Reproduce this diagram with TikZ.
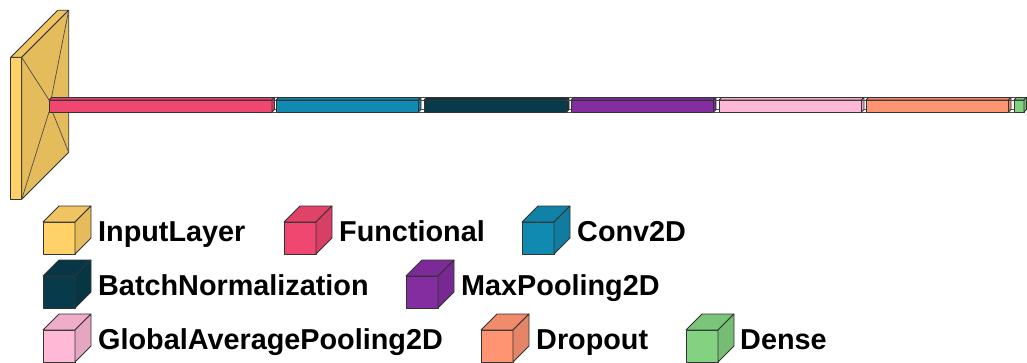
\documentclass[tikz,border=0pt]{standalone}
\usepackage{fontspec}
\setmainfont{Liberation Sans}
\usepackage{tikz}

\definecolor{inputcol}{HTML}{FFD166}
\definecolor{funccol}{HTML}{EF476F}
\definecolor{convcol}{HTML}{118AB2}
\definecolor{bncol}{HTML}{073B4C}
\definecolor{poolcol}{HTML}{842DA1}
\definecolor{gapcol}{HTML}{FFB8D6}
\definecolor{dropcol}{HTML}{FF9472}
\definecolor{densecol}{HTML}{82D282}

% corners of a box: name, x1, y1, x2, y2, depth
\newcommand{\defbox}[6]{%
  \coordinate (#1-ftl) at (#2,#3);
  \coordinate (#1-ftr) at (#4,#3);
  \coordinate (#1-fbl) at (#2,#5);
  \coordinate (#1-fbr) at (#4,#5);
  \coordinate (#1-btl) at (#2+#6,#3-#6);
  \coordinate (#1-btr) at (#4+#6,#3-#6);
  \coordinate (#1-bbl) at (#2+#6,#5-#6);
  \coordinate (#1-bbr) at (#4+#6,#5-#6);
}
% front, top and side faces
\newcommand{\drawbox}[2]{%
  \draw[boxline, fill=#2] (#1-ftl) rectangle (#1-fbr);
  \draw[boxline, fill=#2!94!black] (#1-ftl) -- (#1-btl) -- (#1-btr) -- (#1-ftr) -- cycle;
  \draw[boxline, fill=#2!90!black] (#1-ftr) -- (#1-btr) -- (#1-bbr) -- (#1-fbr) -- cycle;
}
% lines from one box to the next
\newcommand{\funnel}[2]{%
  \draw[funnelline] (#1-btr) -- (#2-btl);
  \draw[funnelline] (#1-bbr) -- (#2-bbl);
  \draw[funnelline] (#1-fbr) -- (#2-fbl);
  \draw[funnelline] (#1-ftr) -- (#2-ftl);
}

\begin{document}
\begin{tikzpicture}[x=1pt, y=-1pt,
  boxline/.style={draw=black!80, line width=0.8pt, line join=round},
  funnelline/.style={draw=black!70, line width=0.7pt},
  legendtext/.style={anchor=base west, inner sep=0pt,
    font=\fontsize{28.8}{30}\selectfont\bfseries}]
  \useasboundingbox (0,0) rectangle (1027,362);

  % Layers
  \defbox{in}{10.7}{57.3}{21.7}{199.3}{47}
  \defbox{fun}{49}{100}{272}{112}{2.5}
  \defbox{conv}{276}{100}{418.5}{112}{2.5}
  \defbox{bn}{424}{100}{566.5}{112}{2.5}
  \defbox{pool}{571}{100}{713.5}{112}{2.5}
  \defbox{gap}{719}{100}{861.5}{112}{2.5}
  \defbox{drop}{866}{100}{1008.5}{112}{2.5}
  \defbox{dense}{1014}{100}{1024}{112}{2.5}

  \drawbox{in}{inputcol}
  \funnel{in}{fun}
  \drawbox{fun}{funccol}
  \funnel{fun}{conv}
  \drawbox{conv}{convcol}
  \funnel{conv}{bn}
  \drawbox{bn}{bncol}
  \funnel{bn}{pool}
  \drawbox{pool}{poolcol}
  \funnel{pool}{gap}
  \drawbox{gap}{gapcol}
  \funnel{gap}{drop}
  \drawbox{drop}{dropcol}
  \funnel{drop}{dense}
  \drawbox{dense}{densecol}

  % Legend, first row
  \defbox{lg-in}{43}{222}{75}{254}{16}
  \drawbox{lg-in}{inputcol}
  \node[legendtext] (txt-in) at (98,241) {InputLayer};
  \defbox{lg-fun}{284}{222}{316}{254}{16}
  \drawbox{lg-fun}{funccol}
  \node[legendtext] (txt-fun) at (339,241) {Functional};
  \defbox{lg-conv}{522}{222}{554}{254}{16}
  \drawbox{lg-conv}{convcol}
  \node[legendtext] (txt-conv) at (577,241) {Conv2D};

  % Legend, second row
  \defbox{lg-bn}{43}{276}{75}{308}{16}
  \drawbox{lg-bn}{bncol}
  \node[legendtext] (txt-bn) at (98,295) {BatchNormalization};
  \defbox{lg-pool}{406}{276}{438}{308}{16}
  \drawbox{lg-pool}{poolcol}
  \node[legendtext] (txt-pool) at (461,295) {MaxPooling2D};

  % Legend, third row
  \defbox{lg-gap}{43}{330}{75}{362}{16}
  \drawbox{lg-gap}{gapcol}
  \node[legendtext] (txt-gap) at (98,349) {GlobalAveragePooling2D};
  \defbox{lg-drop}{481}{330}{513}{362}{16}
  \drawbox{lg-drop}{dropcol}
  \node[legendtext] (txt-drop) at (536,349) {Dropout};
  \defbox{lg-dense}{686}{330}{718}{362}{16}
  \drawbox{lg-dense}{densecol}
  \node[legendtext] (txt-dense) at (740,349) {Dense};
\end{tikzpicture}
\end{document}
